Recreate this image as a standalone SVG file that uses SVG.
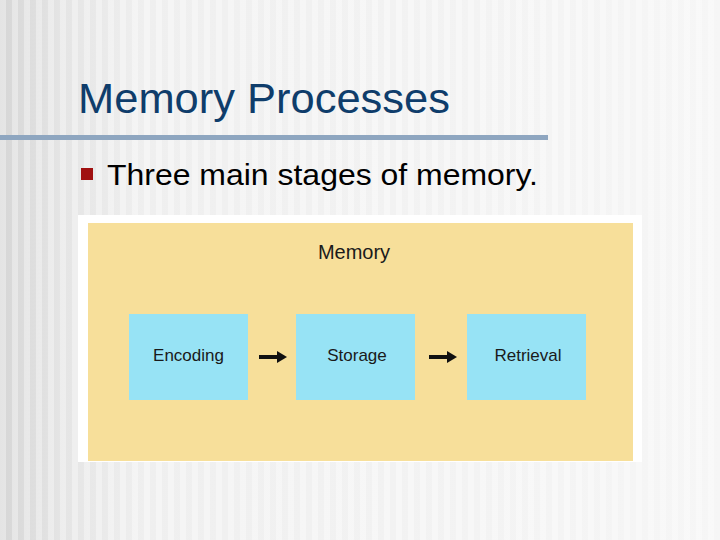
<svg xmlns="http://www.w3.org/2000/svg" width="720" height="540" viewBox="0 0 720 540">
<defs>
<linearGradient id="bg" x1="0" x2="1" y1="0" y2="0">
<stop offset="0" stop-color="#d6d6d6"/><stop offset="0.08" stop-color="#e4e4e4"/><stop offset="0.2" stop-color="#efefef"/><stop offset="1" stop-color="#f6f6f6"/>
</linearGradient>
<pattern id="str" width="12" height="10" patternUnits="userSpaceOnUse">
<rect x="0" y="0" width="6" height="10" fill="#ffffff" opacity="0.35"/>
</pattern>
<marker id="ah" viewBox="0 0 10 10" refX="5" refY="5" markerWidth="2.5" markerHeight="3" orient="auto" markerUnits="strokeWidth" preserveAspectRatio="none"><path d="M0,0 L10,5 L0,10 Z" fill="#111"/></marker>
<style>
.box{fill:#97e3f5}
.lbl{font-family:"Liberation Sans",Arial,sans-serif;font-size:17px;fill:#1a1a1a;text-anchor:middle}
</style>
</defs>
<rect width="720" height="540" fill="url(#bg)"/>
<rect width="720" height="540" fill="url(#str)"/>
<text x="78" y="113" font-family="Liberation Sans,Arial,sans-serif" font-size="43" fill="#0f3d6b" textLength="372" lengthAdjust="spacingAndGlyphs">Memory Processes</text>
<rect x="0" y="135" width="548" height="5" fill="#8ea6c0"/>
<rect x="81" y="168" width="12" height="12" fill="#a01010"/>
<text x="107" y="185" font-family="Liberation Sans,Arial,sans-serif" font-size="29" fill="#000" textLength="431" lengthAdjust="spacingAndGlyphs">Three main stages of memory.</text>
<rect x="78" y="215" width="564" height="247" fill="#ffffff"/>
<rect x="88" y="223" width="545" height="238" fill="#f7df9a"/>
<text x="354" y="259" class="lbl" style="font-size:20px">Memory</text>
<g id="encoding"><rect class="box" x="129" y="314" width="119" height="86"/><text class="lbl" x="188.5" y="361">Encoding</text></g>
<g id="storage"><rect class="box" x="296" y="314" width="119" height="86"/><text class="lbl" x="357" y="361">Storage</text></g>
<g id="retrieval"><rect class="box" x="467" y="314" width="119" height="86"/><text class="lbl" x="528" y="361">Retrieval</text></g>
<g id="connectors" stroke="#111" stroke-width="4">
<line x1="259" y1="357" x2="282" y2="357" marker-end="url(#ah)"/>
<line x1="429" y1="357" x2="452" y2="357" marker-end="url(#ah)"/>
</g>
</svg>
